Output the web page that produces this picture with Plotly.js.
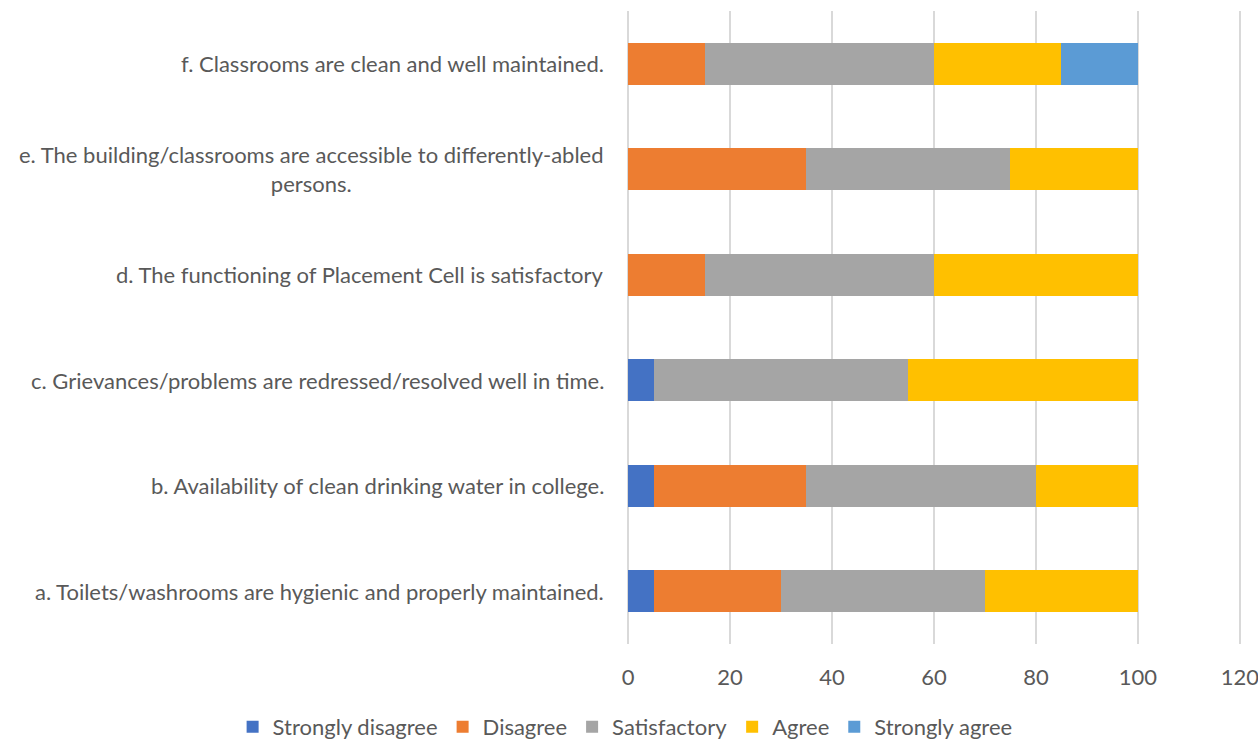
<!DOCTYPE html>
<html><head><meta charset="utf-8">
<script src="https://cdn.plot.ly/plotly-3.0.1.min.js"></script>
<style>html,body{margin:0;background:#fff;overflow:hidden}#chart{width:1258px;height:770px}</style>
</head><body><div id="chart"></div>
<script>
var categories = [
  "a. Toilets/washrooms are hygienic and properly maintained.",
  "b. Availability of clean drinking water in college.",
  "c. Grievances/problems are redressed/resolved well in time.",
  "d. The functioning of Placement Cell is satisfactory",
  "e. The building/classrooms are accessible to differently-abled<br>persons.",
  "f. Classrooms are clean and well maintained."
];
var seriesNames = ["Strongly disagree","Disagree","Satisfactory","Agree","Strongly agree"];
var stronglyDisagree = [5, 5, 5, 0, 0, 0];
var disagree = [25, 30, 0, 15, 35, 15];
var satisfactory = [40, 45, 50, 45, 40, 45];
var agree = [30, 20, 45, 40, 25, 25];
var stronglyAgree = [0, 0, 0, 0, 0, 15];
var xTicks = [0, 20, 40, 60, 80, 100, 120];

var colors = ["#4472C4","#ED7D31","#A5A5A5","#FFC000","#5B9BD5"];
var FONT = 'Lato, "Open Sans", sans-serif';
var allValues = [stronglyDisagree, disagree, satisfactory, agree, stronglyAgree];
var ids = categories.map(function(c, i){ return i; });

var traces = allValues.map(function(v, k){
  return {
    type: 'bar', orientation: 'h', name: seriesNames[k],
    x: v, y: ids,
    marker: {color: colors[k]},
    hoverinfo: 'x+name'
  };
});

var annotations = categories.map(function(c, i){
  return {
    text: c, x: 0, xref: 'paper', xshift: -22, xanchor: 'right',
    y: i, yref: 'y', yanchor: 'middle', align: 'center', showarrow: false,
    font: {family: FONT, size: 22, color: '#595959'}
  };
});

var layout = {
  barmode: 'stack',
  bargap: 0.6,
  width: 1258, height: 770,
  margin: {l: 628, r: 17, t: 11, b: 126},
  paper_bgcolor: '#fff', plot_bgcolor: '#fff',
  font: {family: FONT, size: 22, color: '#595959'},
  xaxis: {
    range: [0, 120.2], tickvals: xTicks, ticktext: xTicks.map(String),
    showgrid: true, gridcolor: '#D9D9D9', gridwidth: 1.3,
    zeroline: true, zerolinecolor: '#D9D9D9', zerolinewidth: 1.3,
    showline: false, ticks: '', ticklabelstandoff: 18, ticklabeloverflow: 'allow',
    tickfont: {family: FONT, size: 22, color: '#595959'}, fixedrange: true
  },
  yaxis: {
    range: [-0.5, 5.5], showticklabels: false, showgrid: false,
    zeroline: false, showline: false, ticks: '', fixedrange: true
  },
  showlegend: true,
  legend: {
    orientation: 'h', xref: 'paper', yref: 'paper',
    x: -0.645, xanchor: 'left', y: -0.131, yanchor: 'middle',
    font: {family: FONT, size: 22, color: '#595959'}, traceorder: 'normal',
    itemwidth: 30, tracegroupgap: 0
  },
  annotations: annotations
};
Plotly.newPlot('chart', traces, layout, {displayModeBar: false, staticPlot: true});
</script></body></html>
